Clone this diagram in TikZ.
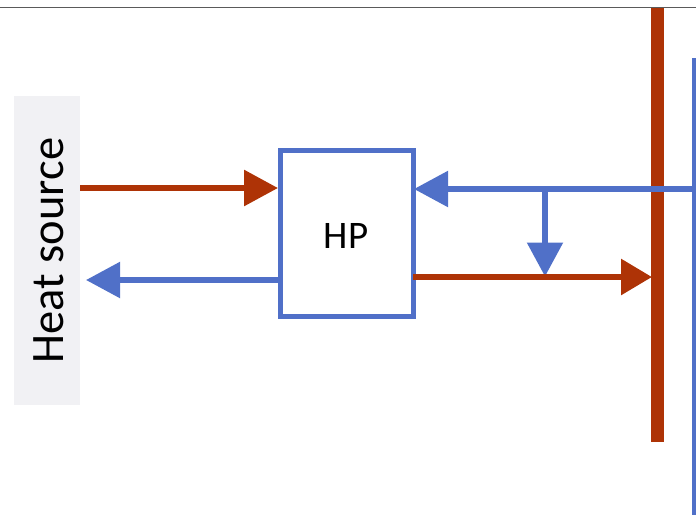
\documentclass[tikz,border=0pt]{standalone}
\usepackage{fontspec}
\setmainfont{Carlito}
\usetikzlibrary{arrows.meta}
\definecolor{hotred}{HTML}{AE3306}
\definecolor{coldblue}{HTML}{5070C8}
\definecolor{srcgray}{HTML}{F1F1F4}
\definecolor{rulegray}{HTML}{5A5A5A}
\tikzset{
  x=1pt,y=-1pt,
  flow/.style={line width=5.5pt,-{Triangle[length=34pt,width=35pt]}},
  hot/.style={flow,draw=hotred,line width=6pt},
  cold/.style={flow,draw=coldblue,line width=5.5pt},
  shorthead/.style={-{Triangle[length=31pt,width=35pt]}},
  sourcebox/.style={fill=srcgray,draw=none,inner sep=0pt,minimum width=66pt,minimum height=309pt},
  hpbox/.style={draw=coldblue,fill=white,line width=5pt,inner sep=0pt,minimum width=132.5pt,minimum height=166pt},
  redbus/.style={fill=hotred,draw=none,inner sep=0pt,minimum width=13.5pt,minimum height=433.5pt},
  bluebus/.style={fill=coldblue,draw=none,inner sep=0pt,minimum width=4pt,minimum height=457pt},
  toprule/.style={draw=rulegray,line width=1pt}
}
\begin{document}
\begin{tikzpicture}
\useasboundingbox (0,0) rectangle (696,515);
\coordinate (ruleL) at (0,7.5);
\coordinate (ruleR) at (696,7.5);
\draw[toprule] (ruleL) -- (ruleR);
\node[sourcebox] (src) at (47,250.5) {};
\node[rotate=90,font=\fontsize{46.5}{46.5}\selectfont] (srclabel) at (49,250.5) {Heat source};
\node[redbus] (rbus) at (657.5,224.75) {};
\node[bluebus] (bbus) at (694,286.5) {};
\node[hpbox] (hp) at (346.75,233.5) {};
\node[font=\fontsize{39}{39}\selectfont] (hplabel) at (346,236) {HP};
\coordinate (srcIn) at (src.east |- 0,188);
\coordinate (hpIn) at (278,188);
\coordinate (hpOutL) at (hp.west |- 0,280);
\coordinate (srcOut) at (86,280);
\coordinate (busOut) at (bbus.west |- 0,189);
\coordinate (hpRet) at (414,189);
\coordinate (tee) at (545,189);
\coordinate (teeEnd) at (545,276.5);
\coordinate (hpOutR) at (413,277);
\coordinate (busIn) at (652,277);
\draw[hot] (srcIn) -- (hpIn);
\draw[cold] (hpOutL) -- (srcOut);
\draw[cold] (busOut) -- (hpRet);
\draw[cold] (tee) -- (teeEnd);
\draw[hot,shorthead] (hpOutR) -- (busIn);
\end{tikzpicture}
\end{document}
